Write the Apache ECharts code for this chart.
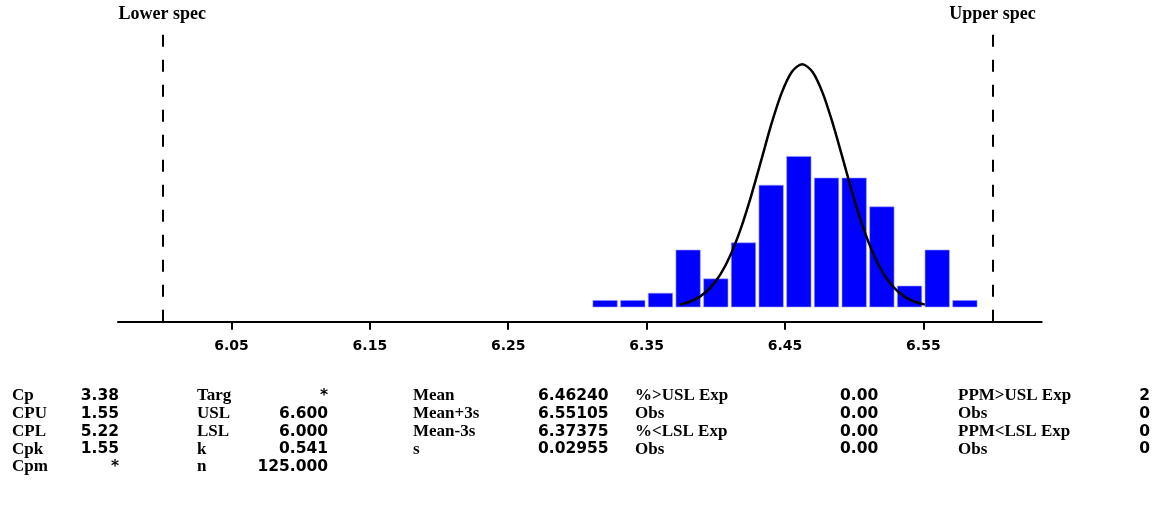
<!DOCTYPE html>
<html>
<head>
<meta charset="utf-8">
<script src="https://cdn.jsdelivr.net/npm/echarts@6/dist/echarts.min.js"></script>
<style>
html,body{margin:0;padding:0;background:#fff;}
#chart{width:1156px;height:508px;}
</style>
</head>
<body>
<div id="chart"></div>
<script>
// ---- data ----
var binCenters = [6.32, 6.34, 6.36, 6.38, 6.40, 6.42, 6.44, 6.46, 6.48, 6.50, 6.52, 6.54, 6.56, 6.58];
var binCounts  = [1, 1, 2, 8, 4, 9, 17, 21, 18, 18, 14, 3, 8, 1];
var curveX = [6.3738, 6.3811, 6.3885, 6.3959, 6.4033, 6.4107, 6.4181, 6.4255, 6.4329, 6.4402, 6.4476, 6.4550, 6.4624,
              6.4698, 6.4772, 6.4846, 6.4920, 6.4993, 6.5067, 6.5141, 6.5215, 6.5289, 6.5363, 6.5437, 6.5511];
var curveY = [0.37, 0.77, 1.48, 2.69, 4.57, 7.30, 10.96, 15.45, 20.47, 25.47, 29.78, 32.71, 33.75,
              32.71, 29.78, 25.47, 20.47, 15.45, 10.96, 7.30, 4.57, 2.69, 1.48, 0.77, 0.37];
var specValues = [6.0, 6.6];
var specLabels = ['Lower spec', 'Upper spec'];
var tickValues = [6.05, 6.15, 6.25, 6.35, 6.45, 6.55];

var col1Labels = ['Cp', 'CPU', 'CPL', 'Cpk', 'Cpm'];
var col1Values = ['3.38', '1.55', '5.22', '1.55', '*'];
var col2Labels = ['Targ', 'USL', 'LSL', 'k', 'n'];
var col2Values = ['*', '6.600', '6.000', '0.541', '125.000'];
var col3Labels = ['Mean', 'Mean+3s', 'Mean-3s', 's'];
var col3Values = ['6.46240', '6.55105', '6.37375', '0.02955'];
var col4Labels = ['%>USL Exp', 'Obs', '%<LSL Exp', 'Obs'];
var col4Values = ['0.00', '0.00', '0.00', '0.00'];
var col5Labels = ['PPM>USL Exp', 'Obs', 'PPM<LSL Exp', 'Obs'];
var col5Values = ['2', '0', '0', '0'];

// ---- build ----
var serifFont = '"Liberation Serif", "Times New Roman", serif';
var sansFont = '"DejaVu Sans", Verdana, sans-serif';

var barData = binCenters.map(function (x, i) { return [x, binCounts[i]]; });
var curveData = curveX.map(function (x, i) { return [x, curveY[i]]; });

var rowY0 = 396, rowStep = 17.75;
var columns = [
  {labels: col1Labels, values: col1Values, lx: 12, vx: 119, va: 'right'},
  {labels: col2Labels, values: col2Values, lx: 197, vx: 328, va: 'right'},
  {labels: col3Labels, values: col3Values, lx: 413, vx: 538, va: 'left'},
  {labels: col4Labels, values: col4Values, lx: 635, vx: 840, va: 'left'},
  {labels: col5Labels, values: col5Values, lx: 958, vx: 1150, va: 'right'}
];
var graphics = [];
columns.forEach(function (col) {
  col.labels.forEach(function (lab, i) {
    var y = rowY0 + i * rowStep;
    graphics.push({type: 'text', x: col.lx, y: y, style: {
      text: lab, fill: '#000', font: 'bold 17px ' + serifFont, textAlign: 'left', textVerticalAlign: 'middle'}});
    graphics.push({type: 'text', x: col.vx, y: y, style: {
      text: col.values[i], fill: '#000', font: 'bold 15.5px ' + sansFont, textAlign: col.va, textVerticalAlign: 'middle'}});
  });
});

var chart = echarts.init(document.getElementById('chart'), null, {renderer: 'canvas'});
chart.setOption({
  backgroundColor: '#fff',
  animation: false,
  grid: {left: 118, right: 114.3, top: 27.9, bottom: 186.3},
  xAxis: {
    type: 'value', min: 5.968, max: 6.6355,
    axisLine: {show: true, onZero: false, lineStyle: {color: '#000', width: 2}},
    axisTick: {show: true, customValues: tickValues, length: 8, lineStyle: {color: '#000', width: 2}},
    axisLabel: {show: true, customValues: tickValues, margin: 18, color: '#000',
      fontFamily: sansFont, fontWeight: 'bold', fontSize: 14,
      formatter: function (v) { return v.toFixed(2); }},
    splitLine: {show: false}
  },
  yAxis: {type: 'value', min: -2, max: 38.8, show: false, splitLine: {show: false}},
  series: [
    {
      type: 'bar', data: barData, barWidth: 25,
      itemStyle: {color: '#0000ff', borderColor: '#a0a0ff', borderWidth: 0.6},
      markLine: {
        silent: true, symbol: 'none', animation: false,
        lineStyle: {color: '#000', width: 2, type: [12, 13]},
        label: {show: true, position: 'end', distance: 5, color: '#000',
          fontFamily: serifFont, fontWeight: 'bold', fontSize: 18,
          formatter: function (p) { return p.name; }},
        data: specValues.map(function (v, i) { return {xAxis: v, name: specLabels[i]}; })
      }
    },
    {
      type: 'line', data: curveData, smooth: 0.3, showSymbol: false, symbol: 'none',
      lineStyle: {color: '#000', width: 2.5}, z: 3
    }
  ],
  graphic: graphics
});
</script>
</body>
</html>
